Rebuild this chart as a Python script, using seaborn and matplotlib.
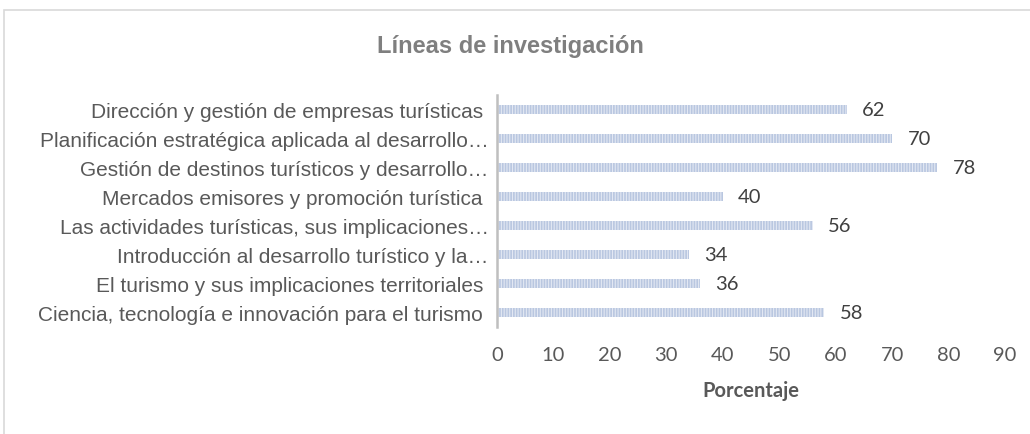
import matplotlib
matplotlib.use("Agg")
import matplotlib.pyplot as plt
import seaborn as sns
import pandas as pd
from matplotlib.patches import Rectangle

# Data (top to bottom)
lineas = [
    "Dirección y gestión de empresas turísticas ",
    "Planificación estratégica aplicada al desarrollo…",
    "Gestión de destinos turísticos y desarrollo…",
    "Mercados emisores y promoción turística ",
    "Las actividades turísticas, sus implicaciones…",
    "Introducción al desarrollo turístico y la…",
    "El turismo y sus implicaciones territoriales ",
    "Ciencia, tecnología e innovación para el turismo ",
]
porcentajes = [62, 70, 78, 40, 56, 34, 36, 58]
x_ticks = [0, 10, 20, 30, 40, 50, 60, 70, 80, 90]

df = pd.DataFrame({"linea": lineas, "porcentaje": porcentajes})

sns.set_theme(style="white")
plt.rcParams["font.family"] = ["Liberation Sans", "DejaVu Sans"]
plt.rcParams["hatch.linewidth"] = 0.8
plt.rcParams["hatch.color"] = "#e3e8f3"

fig = plt.figure(figsize=(10.3, 4.35), dpi=100)
ax = fig.add_axes([497 / 1030, 1 - 328 / 435, 508 / 1030, 232 / 435])

sns.barplot(data=df, x="porcentaje", y="linea", order=lineas, orient="h",
            color="#b9c7e0", width=0.34, saturation=1, ax=ax)
for bar in ax.patches:
    bar.set_hatch("||||||")
    bar.set_edgecolor("#e3e8f3")
    bar.set_linewidth(0)

ax.bar_label(ax.containers[0], labels=[str(v) for v in porcentajes], padding=11,
             fontsize=14.5, color="#404040", family=["Lato", "DejaVu Sans"])

ax.set_xlim(0, 90)
ax.set_xticks(x_ticks)
ax.set_xticklabels([str(t) for t in x_ticks], family=["Lato", "DejaVu Sans"],
                   fontsize=14.5, color="#595959")
ax.tick_params(axis="x", length=0, pad=14)
ax.tick_params(axis="y", length=0, pad=6, labelsize=15, labelcolor="#595959")
ax.set_ylabel("")
ax.set_xlabel("Porcentaje", fontsize=14.5, fontweight="bold", color="#595959",
              family=["Lato", "DejaVu Sans"], labelpad=12)

for side in ["top", "right", "bottom"]:
    ax.spines[side].set_visible(False)
ax.spines["left"].set_color("#bfbfbf")
ax.spines["left"].set_linewidth(1.8)

fig.text(510 / 1030, 1 - 47 / 435, "Líneas de investigación", ha="center", va="center",
         fontsize=17, fontweight="bold", color="#7f7f7f")

# light chart-area frame
fig.patches.append(Rectangle((4 / 1030, -0.1), 1.1, 1 - 11 / 435 + 0.1,
                             transform=fig.transFigure, fill=False,
                             edgecolor="#d9d9d9", linewidth=1.2))

fig.savefig("out.png", dpi=100)
